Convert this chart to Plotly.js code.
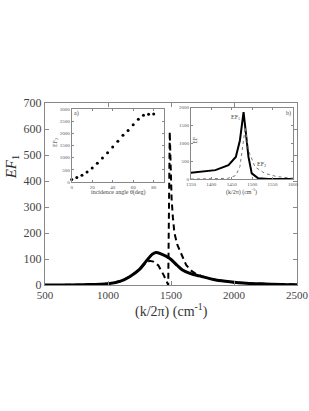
<!DOCTYPE html>
<html><head><meta charset="utf-8">
<script src="https://cdn.plot.ly/plotly-3.0.1.min.js"></script>
<style>html,body{margin:0;padding:0;background:#fff}#chart{width:309px;height:411px}</style>
</head><body><div id="chart"></div>
<script>
// Main plot: EF1 vs wavenumber
const mainSolidX = [500, 800, 1000, 1100, 1172, 1250, 1300, 1350, 1380, 1420, 1488, 1550, 1591, 1650, 1725, 1857, 2000, 2120, 2250, 2380, 2500];
const mainSolidY = [0, 1, 5, 15, 32, 60, 90, 118, 125, 120, 103, 75, 58, 45, 35, 19, 11, 6, 4, 2, 1];
const mainDashX = [500, 800, 1000, 1100, 1172, 1250, 1300, 1330, 1360, 1400, 1440, 1465, 1478, 1482, 1486, 1490, 1495, 1500, 1505, 1515, 1527, 1550, 1567, 1600, 1620, 1660, 1700, 1750, 1800, 1900, 2000, 2200, 2500];
const mainDashY = [0, 1, 5, 15, 32, 60, 85, 93, 90, 75, 40, 15, 0, 200, 450, 590, 500, 400, 330, 260, 200, 155, 135, 95, 77, 55, 42, 33, 25, 16, 10, 5, 2];
// Inset a: EF2 vs incidence angle
const angle = [0, 5, 10, 15, 20, 25, 30, 35, 40, 45, 50, 55, 60, 65, 70, 75, 80];
const ef2 = [100, 180, 275, 410, 575, 770, 985, 1205, 1440, 1670, 1920, 2120, 2355, 2575, 2740, 2780, 2800];
// Inset b: EF1 and EF2 near resonance
const bX1 = [1350, 1380, 1410, 1442, 1460, 1470, 1477, 1479, 1484, 1491, 1499, 1515, 1540, 1570, 1600];
const bY1 = [175, 205, 250, 390, 620, 1080, 1780, 1870, 1360, 620, 160, 20, 5, 3, 2];
const bX2 = [1350, 1420, 1440, 1460, 1470, 1478, 1483, 1491, 1507, 1531, 1560, 1604];
const bY2 = [0, 10, 20, 100, 350, 1000, 1450, 800, 340, 160, 70, 20];

const serif = 'Liberation Serif, Times New Roman, serif';
const traces = [
  {x: mainSolidX, y: mainSolidY, mode: 'lines', line: {color: '#000', width: 3, shape: 'spline'}, xaxis: 'x', yaxis: 'y'},
  {x: mainDashX, y: mainDashY, mode: 'lines', line: {color: '#000', width: 2, dash: '6px,4px'}, xaxis: 'x', yaxis: 'y'},
  {x: angle, y: ef2, mode: 'markers', marker: {color: '#000', size: 3}, xaxis: 'x2', yaxis: 'y2', cliponaxis: false},
  {x: bX1, y: bY1, mode: 'lines', line: {color: '#000', width: 2}, xaxis: 'x3', yaxis: 'y3'},
  {x: bX2, y: bY2, mode: 'lines', line: {color: '#777', width: 1, dash: 'dot'}, xaxis: 'x3', yaxis: 'y3'}
];
const insetAxis = {showline: true, mirror: 'ticks', linecolor: '#888', linewidth: 1, ticks: 'inside', ticklen: 2, tickcolor: '#888', showgrid: false, zeroline: false, ticklabeloverflow: 'allow', tickfont: {family: serif, size: 5, color: '#555'}};
const mainAxis = {showline: true, mirror: 'ticks', linecolor: '#888', linewidth: 1, ticks: 'inside', ticklen: 4, tickcolor: '#888', showgrid: false, zeroline: false, ticklabeloverflow: 'allow', tickfont: {family: serif, size: 12, color: '#444'}, domain: [0, 1]};
function ann(text, x, y, size, extra) {
  return Object.assign({text: text, xref: 'paper', yref: 'paper', x: x, y: y, xanchor: 'center', yanchor: 'middle', showarrow: false, font: {family: serif, size: size, color: '#444'}}, extra || {});
}
const layout = {
  width: 309, height: 411, showlegend: false,
  paper_bgcolor: '#fff', plot_bgcolor: '#fff',
  margin: {l: 45, r: 12, t: 103, b: 126},
  xaxis: Object.assign({}, mainAxis, {range: [500, 2500], tickvals: [500, 1000, 1500, 2000, 2500], tickfont: {family: serif, size: 11, color: '#444'}}),
  yaxis: Object.assign({}, mainAxis, {range: [0, 700], tickvals: [0, 100, 200, 300, 400, 500, 600, 700]}),
  xaxis2: Object.assign({}, insetAxis, {range: [0, 90], tickvals: [0, 20, 40, 60, 80], domain: [0.106, 0.472], anchor: 'y2'}),
  yaxis2: Object.assign({}, insetAxis, {range: [0, 3000], tickvals: [0, 500, 1000, 1500, 2000, 2500, 3000], domain: [0.566, 0.967], anchor: 'x2'}),
  xaxis3: Object.assign({}, insetAxis, {range: [1350, 1600], tickvals: [1350, 1400, 1450, 1500, 1550, 1600], domain: [0.579, 0.984], anchor: 'y3'}),
  yaxis3: Object.assign({}, insetAxis, {range: [0, 2000], tickvals: [0, 500, 1000, 1500, 2000], domain: [0.582, 0.975], anchor: 'x3'}),
  annotations: [
    ann('(k/2π) (cm<sup>-1</sup>)', 0.5, -0.14, 14, {font: {family: serif, size: 14, color: '#333'}}),
    ann('<i>EF</i><sub>1</sub>', -0.13, 0.648, 15, {textangle: -90, font: {family: serif, size: 15, color: '#222'}}),
    ann('incidence angle θ(deg)', 0.29, 0.51, 6),
    ann('EF<sub>2</sub>', 0.04, 0.78, 6, {textangle: -90}),
    ann('a)', 0.125, 0.94, 6),
    ann('(k/2π) (cm<sup>-1</sup>)', 0.78, 0.515, 6),
    ann('EF', 0.597, 0.8, 6, {textangle: -90}),
    ann('EF<sub>1</sub>', 0.755, 0.92, 6),
    ann('EF<sub>2</sub>', 0.86, 0.66, 6),
    ann('b)', 0.965, 0.94, 6)
  ]
};
Plotly.newPlot('chart', traces, layout, {displayModeBar: false, staticPlot: true});
</script></body></html>
